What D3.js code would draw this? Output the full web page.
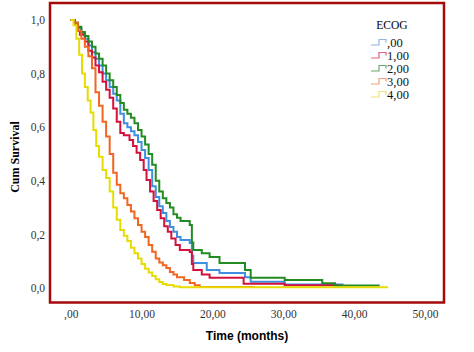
<!DOCTYPE html>
<html>
<head>
<meta charset="utf-8">
<script src="https://cdn.jsdelivr.net/npm/d3@7"></script>
<style>
  body { margin: 0; background: #fff; }
</style>
</head>
<body>
<div id="chart"></div>
<script>
// ECOG groups and their colours
const groups = [",00", "1,00", "2,00", "3,00", "4,00"];
const colors = ["#3f8fe0", "#d4103c", "#228b22", "#f26522", "#e6dc00"];
const legendColors = ["#8fb4e6", "#e0607a", "#6aa86a", "#f4a07a", "#eee47a"];

// Kaplan-Meier steps: time (months) and cumulative survival
const t0 = [0, 0.6, 1, 1.5, 2, 2.5, 3, 3.5, 4, 4.5, 5, 5.5, 6, 6.5, 7, 7.5, 8, 8.5, 9, 9.5, 10, 10.5, 11, 11.5, 12, 12.5, 13, 13.5, 14, 14.5, 15, 15.5, 16.8, 17.1, 17.3, 19.2, 21, 24.6, 25.4, 30.2, 38.5];
const s0 = [1, 0.99, 0.97, 0.95, 0.93, 0.905, 0.88, 0.855, 0.83, 0.80, 0.775, 0.75, 0.725, 0.70, 0.65, 0.615, 0.60, 0.585, 0.57, 0.545, 0.515, 0.485, 0.44, 0.38, 0.34, 0.305, 0.28, 0.25, 0.228, 0.21, 0.19, 0.179, 0.168, 0.12, 0.093, 0.067, 0.056, 0.04, 0.023, 0.013, 0.013];

const t1 = [0, 0.6, 1, 1.3, 2, 2.5, 3, 3.5, 4, 4.5, 5, 5.5, 6, 6.5, 7, 7.5, 8.3, 8.8, 9.3, 9.8, 10.3, 10.7, 11.2, 11.7, 12.2, 12.7, 13.2, 13.7, 14.2, 14.8, 15.4, 16.8, 17.1, 17.3, 18.5, 19.6, 24.4, 30.2, 38];
const s1 = [1, 0.985, 0.96, 0.945, 0.92, 0.885, 0.86, 0.83, 0.805, 0.77, 0.74, 0.71, 0.67, 0.62, 0.578, 0.57, 0.552, 0.53, 0.505, 0.478, 0.44, 0.403, 0.36, 0.325, 0.291, 0.26, 0.23, 0.21, 0.185, 0.16, 0.142, 0.134, 0.09, 0.067, 0.05, 0.038, 0.016, 0.010, 0.010];

const t2 = [0, 0.6, 1, 1.5, 2, 2.5, 3, 3.5, 4, 4.5, 5, 5.5, 6, 6.5, 7, 7.5, 8, 8.5, 9, 9.5, 10, 10.5, 11, 11.5, 12, 12.5, 13, 13.5, 14, 14.5, 15, 15.5, 16.8, 17.1, 17.3, 18.5, 19.6, 21, 24.6, 25.4, 30.2, 35.5, 37.3, 43.6];
const s2 = [1, 0.99, 0.975, 0.955, 0.94, 0.92, 0.90, 0.875, 0.855, 0.83, 0.80, 0.775, 0.75, 0.72, 0.69, 0.665, 0.65, 0.635, 0.615, 0.59, 0.565, 0.535, 0.50, 0.46, 0.40, 0.36, 0.335, 0.317, 0.30, 0.275, 0.262, 0.25, 0.235, 0.17, 0.142, 0.13, 0.116, 0.093, 0.067, 0.038, 0.030, 0.018, 0.009, 0.009];

const t3 = [0, 0.5, 1, 1.5, 2, 2.5, 3, 3.5, 4, 4.5, 5, 5.5, 6, 6.5, 7, 7.5, 8, 8.5, 9, 9.5, 10, 10.5, 11, 11.5, 12, 12.5, 13, 13.5, 14, 14.5, 15, 16, 16.8, 17.5, 18.2, 26];
const s3 = [1, 0.99, 0.96, 0.93, 0.90, 0.865, 0.82, 0.73, 0.68, 0.62, 0.565, 0.50, 0.43, 0.385, 0.354, 0.335, 0.31, 0.285, 0.26, 0.235, 0.21, 0.19, 0.16, 0.135, 0.11, 0.095, 0.085, 0.075, 0.06, 0.05, 0.04, 0.03, 0.019, 0.01, 0.004, 0.004];

const t4 = [0, 0.4, 0.8, 1.2, 1.6, 2, 2.4, 2.8, 3.2, 3.6, 4, 4.5, 5, 5.5, 6, 6.5, 7, 7.5, 8, 8.5, 9, 9.5, 10, 10.5, 11, 11.5, 12, 12.5, 13, 13.5, 14.5, 15.4, 44.8];
const s4 = [1, 0.98, 0.93, 0.87, 0.80, 0.75, 0.70, 0.655, 0.59, 0.53, 0.49, 0.44, 0.41, 0.36, 0.30, 0.255, 0.216, 0.195, 0.175, 0.15, 0.13, 0.11, 0.09, 0.072, 0.058, 0.045, 0.033, 0.022, 0.015, 0.011, 0.006, 0.003, 0.003];

const times = [t0, t1, t2, t3, t4];
const surv = [s0, s1, s2, s3, s4];

const xTicks = [0, 10, 20, 30, 40, 50];
const yTicks = [0, 0.2, 0.4, 0.6, 0.8, 1.0];

const W = 474, H = 352;
const frame = { left: 50, top: 3, right: 444, bottom: 302.5 };

const svg = d3.select("#chart").append("svg")
    .attr("width", W)
    .attr("height", H);

const x = d3.scaleLinear().domain([0, 50]).range([70.7, 425]);
const y = d3.scaleLinear().domain([0, 1]).range([288, 20]);

// comma decimal like the original
const fmtX = d => d === 0 ? ",00" : d3.format(".2f")(d).replace(".", ",");
const fmtY = d => d3.format(".1f")(d).replace(".", ",");

// axes, no tick marks and no domain line
svg.append("g")
    .attr("transform", `translate(0,${frame.bottom})`)
    .call(d3.axisBottom(x).tickValues(xTicks).tickSize(0).tickPadding(7).tickFormat(fmtX))
    .call(g => g.select(".domain").remove())
    .selectAll("text")
    .attr("fill", "#333")
    .style("font-family", "'Liberation Serif', serif")
    .style("font-size", "11.5px");

svg.append("g")
    .attr("transform", `translate(${frame.left},0)`)
    .call(d3.axisLeft(y).tickValues(yTicks).tickSize(0).tickPadding(5).tickFormat(fmtY))
    .call(g => g.select(".domain").remove())
    .selectAll("text")
    .attr("fill", "#333")
    .style("font-family", "'Liberation Serif', serif")
    .style("font-size", "11.5px");

// curves
const line = d3.line()
    .x(d => x(d[0]))
    .y(d => y(d[1]))
    .curve(d3.curveStepAfter);

svg.append("g")
    .selectAll("path")
    .data(groups.map((g, i) => times[i].map((t, j) => [t, surv[i][j]])))
    .enter().append("path")
    .attr("d", line)
    .attr("fill", "none")
    .attr("stroke", (d, i) => colors[i])
    .attr("stroke-width", 2);

// dark red frame round the plot
svg.append("rect")
    .attr("x", frame.left)
    .attr("y", frame.top)
    .attr("width", frame.right - frame.left)
    .attr("height", frame.bottom - frame.top)
    .attr("fill", "none")
    .attr("stroke", "#a50a0a")
    .attr("stroke-width", 2.5);

// axis titles
svg.append("text")
    .attr("x", 247)
    .attr("y", 340)
    .attr("text-anchor", "middle")
    .style("font-family", "'Liberation Sans', Arial, sans-serif")
    .style("font-weight", "bold")
    .style("font-size", "12px")
    .text("Time (months)");

svg.append("text")
    .attr("transform", "translate(19,157) rotate(-90)")
    .attr("text-anchor", "middle")
    .style("font-family", "'Liberation Serif', serif")
    .style("font-weight", "bold")
    .style("font-size", "12px")
    .text("Cum Survival");

// legend
const legend = svg.append("g");
legend.append("text")
    .attr("x", 392)
    .attr("y", 29)
    .attr("text-anchor", "middle")
    .style("font-family", "'Liberation Serif', serif")
    .style("font-size", "11.5px")
    .text("ECOG");

const item = legend.selectAll(".item")
    .data(groups)
    .enter().append("g")
    .attr("class", "item")
    .attr("transform", (d, i) => `translate(371,${42.5 + i * 13})`);

item.append("path")
    .attr("d", "M0,2.5 H8 V-3 H15 V0")
    .attr("fill", "none")
    .attr("stroke", (d, i) => legendColors[i])
    .attr("stroke-width", 1.2);

item.append("text")
    .attr("x", 16)
    .attr("y", 4.5)
    .style("font-family", "'Liberation Serif', serif")
    .style("font-size", "12.5px")
    .attr("fill", "#111")
    .text(d => d);
</script>
</body>
</html>
